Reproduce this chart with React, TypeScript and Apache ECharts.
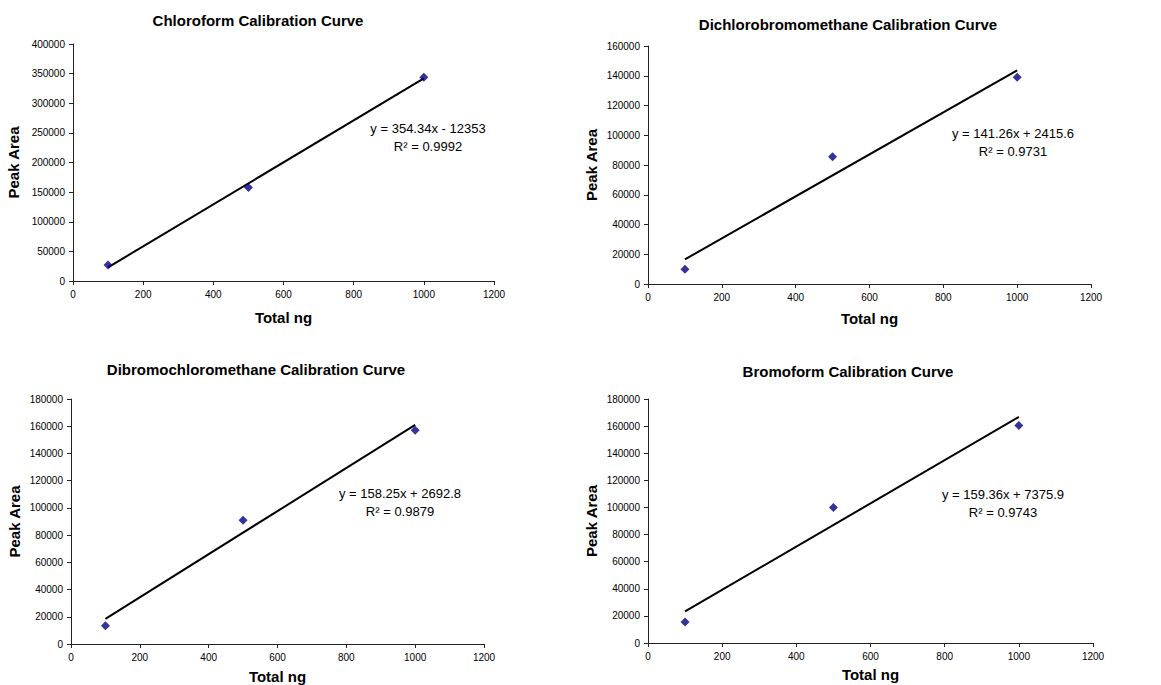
import React, { useEffect, useRef } from "react";
import * as echarts from "echarts";

const titles = [
  "Chloroform Calibration Curve",
  "Dichlorobromomethane Calibration Curve",
  "Dibromochloromethane Calibration Curve",
  "Bromoform Calibration Curve",
];
const totalNg = [100, 500, 1000];
const chloroformArea = [27000, 158000, 344000];
const dichlorobromoArea = [10000, 85500, 139000];
const dibromochloroArea = [13500, 91000, 157000];
const bromoformArea = [15500, 100000, 160500];
const trendX = [100, 1000];
const chloroformTrend = [23081, 341987];
const dichlorobromoTrend = [16542, 143676];
const dibromochloroTrend = [18518, 160943];
const bromoformTrend = [23312, 166736];
const equations = [
  "y = 354.34x - 12353",
  "y = 141.26x + 2415.6",
  "y = 158.25x + 2692.8",
  "y = 159.36x + 7375.9",
];
const rSquared = ["R² = 0.9992", "R² = 0.9731", "R² = 0.9879", "R² = 0.9743"];
const yMax = [400000, 160000, 180000, 180000];
const yInterval = [50000, 20000, 20000, 20000];
const xMax = 1200;
const xInterval = 200;

const areas = [chloroformArea, dichlorobromoArea, dibromochloroArea, bromoformArea];
const trends = [chloroformTrend, dichlorobromoTrend, dibromochloroTrend, bromoformTrend];

// layout (pixels)
const grids = [
  { left: 73, top: 44, width: 421, height: 237 },
  { left: 648, top: 46, width: 443, height: 238 },
  { left: 71, top: 399, width: 413, height: 245 },
  { left: 648, top: 399, width: 445, height: 244 },
];
const titlePos = [
  { x: 258, y: 13 },
  { x: 848, y: 17 },
  { x: 256, y: 362 },
  { x: 848, y: 364 },
];
const yNameGap = [52, 49, 49, 49];
const xNameGap = [29, 27, 25, 24];
const eqPos = [
  { x: 428, y: 128 },
  { x: 1013, y: 133 },
  { x: 400, y: 493 },
  { x: 1003, y: 494 },
];

const FONT = "'Liberation Sans', Arial, sans-serif";

export default function App() {
  const ref = useRef<HTMLDivElement>(null);
  useEffect(() => {
    if (!ref.current) return;
    const chart = echarts.init(ref.current, undefined, { renderer: "svg" });
    const axisLine = { show: true, lineStyle: { color: "#222", width: 1 } };
    const plain = (v: number) => String(v);
    const option: any = {
      animation: false,
      backgroundColor: "#fff",
      title: titles.map((t, i) => ({
        text: t,
        left: titlePos[i].x,
        top: titlePos[i].y,
        textAlign: "center",
        padding: 0,
        textStyle: { fontFamily: FONT, fontSize: 15, fontWeight: "bold", color: "#000" },
      })),
      grid: grids.map((g) => ({ ...g, containLabel: false })),
      xAxis: grids.map((_, i) => ({
        type: "value",
        gridIndex: i,
        min: 0,
        max: xMax,
        interval: xInterval,
        name: "Total ng",
        nameLocation: "middle",
        nameGap: xNameGap[i],
        nameTextStyle: { fontFamily: FONT, fontSize: 15, fontWeight: "bold", color: "#000" },
        axisLine,
        axisTick: { show: true, inside: false, length: 4, lineStyle: { color: "#222" } },
        axisLabel: { fontFamily: FONT, fontSize: 10, color: "#000", margin: 8, formatter: plain },
        splitLine: { show: false },
      })),
      yAxis: grids.map((_, i) => ({
        type: "value",
        gridIndex: i,
        min: 0,
        max: yMax[i],
        interval: yInterval[i],
        name: "Peak Area",
        nameLocation: "middle",
        nameGap: yNameGap[i],
        nameTextStyle: { fontFamily: FONT, fontSize: 15, fontWeight: "bold", color: "#000" },
        axisLine,
        axisTick: { show: true, inside: false, length: 4, lineStyle: { color: "#222" } },
        axisLabel: { fontFamily: FONT, fontSize: 10, color: "#000", margin: 8, formatter: plain },
        splitLine: { show: false },
      })),
      series: [
        ...trends.map((tr, i) => ({
          type: "line",
          xAxisIndex: i,
          yAxisIndex: i,
          data: trendX.map((x, j) => [x, tr[j]]),
          showSymbol: false,
          symbol: "none",
          lineStyle: { color: "#000", width: 2 },
          silent: true,
          z: 2,
        })),
        ...areas.map((a, i) => ({
          type: "scatter",
          xAxisIndex: i,
          yAxisIndex: i,
          data: totalNg.map((x, j) => [x, a[j]]),
          symbol: "diamond",
          symbolSize: 9,
          itemStyle: { color: "#000080" },
          z: 3,
        })),
      ],
      graphic: equations.flatMap((eq, i) => [
        {
          type: "text",
          x: eqPos[i].x,
          y: eqPos[i].y,
          style: {
            text: eq,
            fontFamily: FONT,
            fontSize: 13,
            fill: "#000",
            textAlign: "center",
            textVerticalAlign: "middle",
          },
        },
        {
          type: "text",
          x: eqPos[i].x,
          y: eqPos[i].y + 18,
          style: {
            text: rSquared[i],
            fontFamily: FONT,
            fontSize: 13,
            fill: "#000",
            textAlign: "center",
            textVerticalAlign: "middle",
          },
        },
      ]),
    };
    chart.setOption(option);
    return () => chart.dispose();
  }, []);
  return (
    <div
      ref={ref}
      style={{ position: "fixed", left: 0, top: 0, width: 1161, height: 685, background: "#fff" }}
    />
  );
}
